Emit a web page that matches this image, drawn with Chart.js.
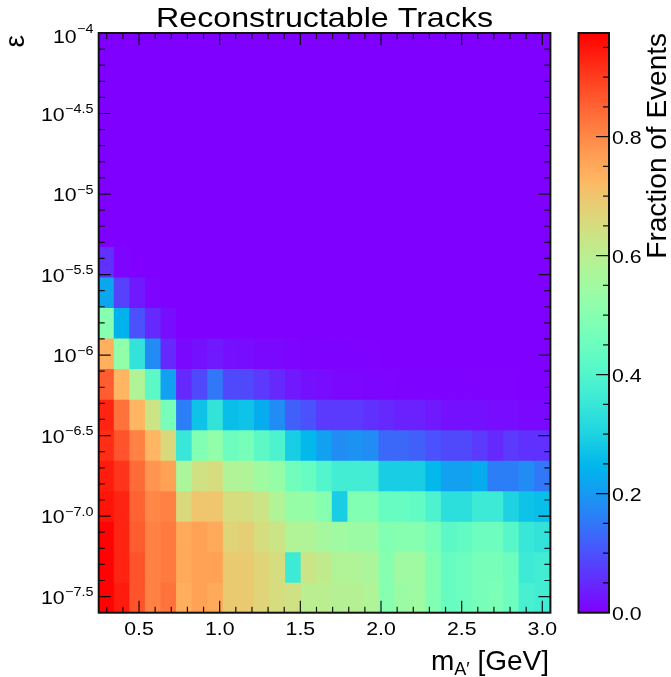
<!DOCTYPE html>
<html>
<head>
<meta charset="utf-8">
<script src="https://cdn.jsdelivr.net/npm/chart.js@4.4.1/dist/chart.umd.min.js"></script>
<style>
  html, body { margin: 0; padding: 0; background: #fff; }
  #wrap { position: relative; width: 671px; height: 677px; }
  canvas { display: block; }
</style>
</head>
<body>
<div id="wrap"><canvas id="c" width="671" height="677"></canvas></div>
<script>
// A' mass bin edges [GeV]
const massEdges = [0.25, 0.34655, 0.44310, 0.53966, 0.63621, 0.73276, 0.82931, 0.92586,
  1.02241, 1.11897, 1.21552, 1.31207, 1.40862, 1.50517, 1.60172, 1.69828, 1.79483,
  1.89138, 1.98793, 2.08448, 2.18103, 2.27759, 2.37414, 2.47069, 2.56724, 2.66379,
  2.76034, 2.85690, 2.95345, 3.05];

// log10(epsilon) bin edges
const logEpsEdges = [-7.6, -7.41053, -7.22105, -7.03158, -6.84211, -6.65263, -6.46316,
  -6.27368, -6.08421, -5.89474, -5.70526, -5.51579, -5.32632, -5.13684, -4.94737,
  -4.75789, -4.56842, -4.37895, -4.18947, -4.0];

// Fraction of events with reconstructable tracks, one row per epsilon bin (lowest first)
const fraction = [
  [0.97,0.94,0.87,0.81,0.83,0.74,0.76,0.75,0.69,0.69,0.67,0.65,0.64,0.60,0.60,0.59,0.59,0.58,0.50,0.54,0.55,0.49,0.44,0.45,0.47,0.48,0.45,0.38,0.37],
  [0.97,0.93,0.87,0.81,0.82,0.75,0.76,0.76,0.69,0.69,0.67,0.65,0.36,0.63,0.61,0.58,0.58,0.57,0.50,0.55,0.55,0.49,0.44,0.45,0.47,0.47,0.45,0.36,0.37],
  [0.97,0.93,0.86,0.81,0.82,0.75,0.76,0.75,0.67,0.68,0.65,0.63,0.58,0.58,0.56,0.55,0.54,0.54,0.49,0.50,0.50,0.47,0.42,0.43,0.45,0.45,0.41,0.35,0.34],
  [0.95,0.93,0.85,0.80,0.81,0.66,0.70,0.70,0.65,0.65,0.63,0.58,0.53,0.53,0.50,0.29,0.49,0.49,0.44,0.44,0.43,0.39,0.33,0.33,0.36,0.36,0.30,0.27,0.26],
  [0.94,0.91,0.84,0.78,0.76,0.57,0.64,0.65,0.58,0.58,0.55,0.53,0.46,0.44,0.40,0.37,0.37,0.37,0.29,0.29,0.29,0.25,0.21,0.21,0.23,0.16,0.16,0.18,0.15],
  [0.92,0.87,0.81,0.73,0.66,0.35,0.49,0.52,0.45,0.47,0.42,0.39,0.29,0.25,0.21,0.18,0.19,0.18,0.13,0.13,0.12,0.10,0.09,0.09,0.07,0.05,0.07,0.06,0.06],
  [0.93,0.83,0.73,0.63,0.47,0.16,0.27,0.34,0.26,0.27,0.23,0.18,0.12,0.10,0.07,0.07,0.07,0.06,0.05,0.04,0.04,0.03,0.02,0.02,0.02,0.015,0.015,0.01,0.01],
  [0.86,0.73,0.58,0.42,0.21,0.05,0.09,0.15,0.09,0.09,0.07,0.05,0.03,0.02,0.015,0.01,0.008,0.006,0.005,0.004,0.003,0.003,0.002,0.002,0.001,0.001,0.001,0,0],
  [0.74,0.52,0.34,0.18,0.05,0.01,0.02,0.03,0.02,0.015,0.01,0.01,0.005,0.004,0.003,0.002,0.002,0.001,0,0,0,0,0,0,0,0,0,0,0],
  [0.50,0.24,0.10,0.05,0.015,0,0,0,0,0,0,0,0,0,0,0,0,0,0,0,0,0,0,0,0,0,0,0,0],
  [0.22,0.08,0.03,0.005,0,0,0,0,0,0,0,0,0,0,0,0,0,0,0,0,0,0,0,0,0,0,0,0,0],
  [0.06,0.005,0,0,0,0,0,0,0,0,0,0,0,0,0,0,0,0,0,0,0,0,0,0,0,0,0,0,0],
  [0,0,0,0,0,0,0,0,0,0,0,0,0,0,0,0,0,0,0,0,0,0,0,0,0,0,0,0,0],
  [0,0,0,0,0,0,0,0,0,0,0,0,0,0,0,0,0,0,0,0,0,0,0,0,0,0,0,0,0],
  [0,0,0,0,0,0,0,0,0,0,0,0,0,0,0,0,0,0,0,0,0,0,0,0,0,0,0,0,0],
  [0,0,0,0,0,0,0,0,0,0,0,0,0,0,0,0,0,0,0,0,0,0,0,0,0,0,0,0,0],
  [0,0,0,0,0,0,0,0,0,0,0,0,0,0,0,0,0,0,0,0,0,0,0,0,0,0,0,0,0],
  [0,0,0,0,0,0,0,0,0,0,0,0,0,0,0,0,0,0,0,0,0,0,0,0,0,0,0,0,0],
  [0,0,0,0,0,0,0,0,0,0,0,0,0,0,0,0,0,0,0,0,0,0,0,0,0,0,0,0,0]
];

// Axis ticks and labels
const massTicks = [0.5, 1.0, 1.5, 2.0, 2.5, 3.0];
const epsTicks = [-4, -4.5, -5, -5.5, -6, -6.5, -7, -7.5];
const epsTickExponents = ['\u22124', '\u22124.5', '\u22125', '\u22125.5', '\u22126', '\u22126.5', '\u22127.0', '\u22127.5'];
const colorTicks = [0.0, 0.2, 0.4, 0.6, 0.8];
const colorMax = 0.974;

const FONT = '"Liberation Sans", Arial, Helvetica, sans-serif';

// matplotlib-style "rainbow" colour map
function rainbow(t) {
  t = Math.min(1, Math.max(0, t));
  const r = Math.min(1, Math.abs(2 * t - 0.5));
  const g = Math.sin(Math.PI * t);
  const b = Math.cos(Math.PI * t / 2);
  return 'rgb(' + Math.round(r * 255) + ',' + Math.round(g * 255) + ',' + Math.round(b * 255) + ')';
}

// one floating bar per histogram cell
const cells = [];
const cellColors = [];
fraction.forEach((row, j) => {
  row.forEach((v, i) => {
    cells.push({ x: (massEdges[i] + massEdges[i + 1]) / 2, y: [logEpsEdges[j], logEpsEdges[j + 1]] });
    cellColors.push(rainbow(v / colorMax));
  });
});

function text(ctx, s, x, y, size, opts) {
  opts = opts || {};
  ctx.save();
  ctx.translate(x, y);
  ctx.scale(opts.sx || 1, 1);
  if (opts.rot) ctx.rotate(opts.rot);
  ctx.font = size + 'px ' + FONT;
  ctx.textAlign = opts.align || 'left';
  ctx.textBaseline = opts.baseline || 'alphabetic';
  ctx.fillStyle = '#000';
  ctx.fillText(s, 0, 0);
  ctx.restore();
}
function textWidth(ctx, s, size, sx) {
  ctx.save();
  ctx.font = size + 'px ' + FONT;
  const w = ctx.measureText(s).width * (sx || 1);
  ctx.restore();
  return w;
}

const TICK_SX = 1.15;

const decorations = {
  id: 'decorations',
  beforeDatasetsDraw(chart) {
    // zero-level colour under the cells so no seams show between them
    const a = chart.chartArea;
    chart.ctx.save();
    chart.ctx.fillStyle = rainbow(0);
    chart.ctx.fillRect(a.left, a.top, a.right - a.left, a.bottom - a.top);
    chart.ctx.restore();
  },
  afterDatasetsDraw(chart) {
    const ctx = chart.ctx;
    const a = chart.chartArea;
    const xs = chart.scales.x, ys = chart.scales.y, zs = chart.scales.z;

    // tick marks on all four sides, pointing inwards
    ctx.save();
    ctx.strokeStyle = 'rgba(0,0,0,0.9)';
    ctx.lineWidth = 1.2;
    ctx.beginPath();
    for (let k = 3; k <= 30; k++) {
      const v = k / 10;
      const px = xs.getPixelForValue(v);
      const len = (k % 5 === 0) ? 12 : 6;
      ctx.moveTo(px, a.bottom); ctx.lineTo(px, a.bottom - len);
      ctx.moveTo(px, a.top); ctx.lineTo(px, a.top + len);
    }
    for (let k = -75; k <= -41; k++) {
      const v = k / 10;
      const py = ys.getPixelForValue(v);
      const len = (k % 5 === 0) ? 12 : 6;
      ctx.moveTo(a.left, py); ctx.lineTo(a.left + len, py);
      ctx.moveTo(a.right, py); ctx.lineTo(a.right - len, py);
    }
    ctx.stroke();
    ctx.restore();

    // frame
    ctx.save();
    ctx.strokeStyle = '#111';
    ctx.lineWidth = 2;
    ctx.strokeRect(a.left, a.top, a.right - a.left, a.bottom - a.top);
    ctx.restore();

    // x tick labels
    massTicks.forEach(v => {
      text(ctx, v.toFixed(1), xs.getPixelForValue(v), 635, 18.5, { align: 'center', sx: TICK_SX });
    });

    // y tick labels: 10 with a raised exponent
    epsTicks.forEach((v, i) => {
      const py = ys.getPixelForValue(v);
      const right = 93.5;
      const ew = textWidth(ctx, epsTickExponents[i], 12.5, TICK_SX);
      text(ctx, epsTickExponents[i], right, py - 0.5, 12.5, { align: 'right', sx: TICK_SX });
      text(ctx, '10', right - ew - 0.5, Math.max(py + 7.2, 42.6), 18.5, { align: 'right', sx: TICK_SX });
    });

    // title
    text(ctx, 'Reconstructable Tracks', (a.left + a.right) / 2, 27, 28, { align: 'center', sx: 1.15 });

    // x axis title: m_{A'} [GeV]
    {
      const size = 28, sub = 18;
      const tail = ' [GeV]';
      const wTail = textWidth(ctx, tail, size);
      const wSub = textWidth(ctx, 'A\u2032', sub);
      const right = 549;
      const base = 670;
      text(ctx, tail, right, base, size, { align: 'right' });
      text(ctx, 'A\u2032', right - wTail, base + 5, sub, { align: 'right' });
      text(ctx, 'm', right - wTail - wSub, base, size, { align: 'right' });
    }

    // y axis title
    text(ctx, '\u03b5', 24, 35, 28, { align: 'right', rot: -Math.PI / 2 });

    // colour bar drawn against the z scale
    const cbL = 578.5, cbR = 609;
    const top = zs.getPixelForValue(colorMax), bot = zs.getPixelForValue(0);
    for (let py = Math.floor(top); py < Math.ceil(bot); py++) {
      const v = zs.getValueForPixel(py + 0.5);
      ctx.fillStyle = rainbow(v / colorMax);
      ctx.fillRect(cbL, py, cbR - cbL, 1);
    }
    ctx.save();
    ctx.strokeStyle = 'rgba(0,0,0,0.9)';
    ctx.lineWidth = 1.2;
    ctx.beginPath();
    for (let k = 1; k * 0.05 < colorMax; k++) {
      const v = k * 0.05;
      const py = zs.getPixelForValue(v);
      const len = (k % 4 === 0) ? 13 : 6;
      ctx.moveTo(cbR, py); ctx.lineTo(cbR - len, py);
    }
    ctx.stroke();
    ctx.strokeStyle = '#111';
    ctx.lineWidth = 2;
    ctx.strokeRect(cbL, top, cbR - cbL, bot - top);
    ctx.restore();

    colorTicks.forEach(v => {
      text(ctx, v.toFixed(1), 612, zs.getPixelForValue(v) + 7, 18.5, { align: 'left', sx: TICK_SX });
    });

    text(ctx, 'Fraction of Events', 666, 33, 28, { align: 'right', rot: -Math.PI / 2 });
  }
};

new Chart(document.getElementById('c'), {
  type: 'bar',
  data: {
    datasets: [{
      data: cells,
      backgroundColor: cellColors,
      borderWidth: 0,
      inflateAmount: 0.5,
      categoryPercentage: 1.0,
      barPercentage: 1.0
    }]
  },
  options: {
    responsive: false,
    animation: false,
    devicePixelRatio: 1,
    layout: { padding: { left: 0, top: 33, right: 671 - 550.4, bottom: 0 } },
    plugins: { legend: { display: false }, tooltip: { enabled: false }, title: { display: false } },
    scales: {
      x: {
        type: 'linear', min: 0.25, max: 3.05, offset: false,
        grid: { display: false, offset: false }, border: { display: false },
        ticks: { display: false },
        afterBuildTicks: s => { s.ticks = massTicks.map(v => ({ value: v })); },
        afterFit: s => { s.height = 677 - 612.7; }
      },
      y: {
        type: 'linear', min: -7.6, max: -4.0,
        grid: { display: false }, border: { display: false },
        ticks: { display: false },
        afterBuildTicks: s => { s.ticks = epsTicks.map(v => ({ value: v })); },
        afterFit: s => { s.width = 98.7; }
      },
      z: { type: 'linear', position: 'right', display: false, min: 0, max: colorMax }
    }
  },
  plugins: [decorations]
});
</script>
</body>
</html>
